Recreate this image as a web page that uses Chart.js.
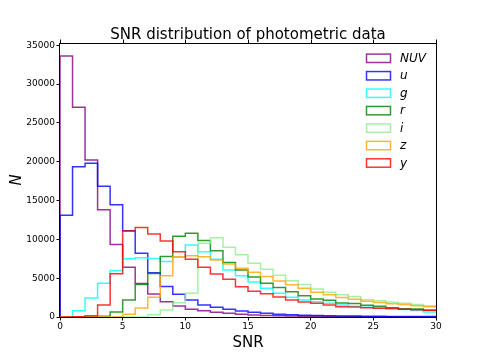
<!DOCTYPE html>
<html><head><meta charset="utf-8">
<script src="https://cdn.jsdelivr.net/npm/chart.js@4"></script>
<style>html,body{margin:0;padding:0;background:#fff;overflow:hidden}</style>
</head><body>
<canvas id="c" width="485" height="363"></canvas>
<script>
// Bin edges (SNR), width 1, from 0 to 30
const binEdges = [0,1,2,3,4,5,6,7,8,9,10,11,12,13,14,15,16,17,18,19,20,21,22,23,24,25,26,27,28,29,30];
const xTicks = [0,5,10,15,20,25,30];
const yTicks = [0,5000,10000,15000,20000,25000,30000,35000];
const seriesNames = ['NUV','u','g','r','i','z','y'];

// Counts per bin (one value per bin, 30 bins)
const NUV = [33600,27000,20200,13800,9350,6400,4300,2950,1950,1420,1000,820,600,470,340,260,200,160,130,110,90,75,60,50,45,40,35,30,25,20];
const U   = [13100,19350,19800,16850,14450,11100,8200,5700,3920,2920,2190,1550,1250,990,770,600,470,360,290,240,200,170,140,120,100,90,80,70,60,55];
const G   = [0,820,2450,4330,6000,7500,7640,7530,7150,7700,9270,8410,7420,6050,5300,4500,3700,3050,2530,2190,1970,1760,1545,1400,1250,1150,1050,950,850,650];
const R   = [0,0,0,100,640,2190,4200,5600,7780,10400,10770,9850,8540,7030,6050,5150,4360,3800,3260,2750,2320,2150,1800,1740,1520,1370,1200,1070,1030,860];
const I   = [0,0,0,0,0,0,0,300,900,1840,3050,9480,10210,8970,8020,6910,6140,5360,4680,4200,3620,3200,2870,2650,2230,2080,1910,1760,1610,1440];
const Z   = [0,0,0,0,0,350,1160,2530,5300,7760,7890,7760,7340,6820,6270,5750,5210,4630,4140,3690,3180,2850,2510,2300,2030,1860,1710,1610,1440,1310];
const Y   = [0,30,170,1550,5575,11070,11540,10700,9780,8410,7420,6420,5530,4850,3900,3300,2980,2570,2190,1930,1760,1545,1330,1280,1200,1130,1080,990,930,880];

const seriesValues = [NUV,U,G,R,I,Z,Y];
const seriesColors = ['rgba(128,0,128,0.8)','rgba(0,0,255,0.8)','rgba(0,255,255,0.8)','rgba(0,128,0,0.8)','rgba(144,238,144,0.8)','rgba(255,165,0,0.8)','rgba(255,0,0,0.8)'];

function stepPoints(vals){
  const pts = [{x: binEdges[0], y: 0}];
  vals.forEach((v,i) => pts.push({x: binEdges[i], y: v}));
  pts.push({x: binEdges[binEdges.length-1], y: vals[vals.length-1]});
  return pts;
}

const datasets = seriesNames.map((n,i) => ({
  label: n,
  data: stepPoints(seriesValues[i]),
  borderColor: seriesColors[i],
  backgroundColor: seriesColors[i],
  borderWidth: 1.5,
  stepped: 'before',
  fill: false,
  pointRadius: 0,
  order: seriesNames.length - i
}));

const FONT = 'DejaVu Sans';

const decor = {
  id: 'decor',
  afterDatasetsDraw(chart){
    const {ctx, chartArea: a, scales} = chart;
    ctx.save();
    ctx.strokeStyle = '#000';
    ctx.lineWidth = 1;
    ctx.strokeRect(Math.round(a.left)-0.5, Math.round(a.top)+0.5, Math.round(a.right)-Math.round(a.left)+1, Math.round(a.bottom)-Math.round(a.top));
    // top ticks (outward)
    ctx.beginPath();
    xTicks.forEach(t => {
      const px = Math.round(scales.x.getPixelForValue(t)) + 0.5;
      ctx.moveTo(px, a.top); ctx.lineTo(px, a.top - 3.5);
    });
    ctx.stroke();
    ctx.restore();
  },
  afterDraw(chart){
    const {ctx, chartArea: a} = chart;
    ctx.save();
    ctx.fillStyle = '#000';
    // title
    ctx.font = '15px "' + FONT + '"';
    ctx.textAlign = 'center';
    ctx.textBaseline = 'alphabetic';
    ctx.fillText('SNR distribution of photometric data', (a.left + a.right)/2, 38.5);
    // x label
    ctx.fillText('SNR', (a.left + a.right)/2, 346.5);
    // y label
    ctx.save();
    ctx.translate(20.5, (a.top + a.bottom)/2);
    ctx.rotate(-Math.PI/2);
    ctx.font = 'italic 15px "' + FONT + '"';
    ctx.fillText('N', 0, 0);
    ctx.restore();
    // legend
    ctx.font = 'italic 12px "' + FONT + '"';
    ctx.textAlign = 'left';
    ctx.textBaseline = 'middle';
    seriesNames.forEach((n,i) => {
      const cy = 58.3 + 17.45*i;
      ctx.strokeStyle = seriesColors[i];
      ctx.lineWidth = 1.5;
      ctx.strokeRect(366.5, cy - 4.2, 24, 8.4);
      ctx.fillStyle = '#000';
      ctx.fillText(n, 400, cy + 0.5);
    });
    ctx.restore();
  }
};

new Chart(document.getElementById('c'), {
  type: 'line',
  data: { datasets },
  options: {
    responsive: false,
    animation: false,
    devicePixelRatio: 1,
    layout: { padding: { top: 43, right: 49, left: 0, bottom: 0 } },
    plugins: { legend: { display: false }, tooltip: { enabled: false }, title: { display: false } },
    elements: { point: { radius: 0 }, line: { tension: 0 } },
    scales: {
      x: {
        type: 'linear', min: 0, max: 30,
        afterBuildTicks: s => { s.ticks = xTicks.map(v => ({value: v})); },
        ticks: { font: { family: FONT, size: 9 }, color: '#000', padding: 1, maxRotation: 0, includeBounds: false },
        grid: { display: true, drawOnChartArea: false, drawTicks: true, tickLength: 3.5, color: '#000', lineWidth: 1 },
        border: { display: false },
        afterFit: s => { s.height = 46; }
      },
      y: {
        type: 'linear', min: 0, max: 35280,
        afterBuildTicks: s => { s.ticks = yTicks.map(v => ({value: v})); },
        ticks: { font: { family: FONT, size: 9 }, color: '#000', padding: 1.5, includeBounds: false, callback: v => String(v) },
        grid: { display: true, drawOnChartArea: false, drawTicks: true, tickLength: 3.5, color: '#000', lineWidth: 1 },
        border: { display: false },
        afterFit: s => { s.width = 60; }
      }
    }
  },
  plugins: [decor]
});
</script>
</body></html>
